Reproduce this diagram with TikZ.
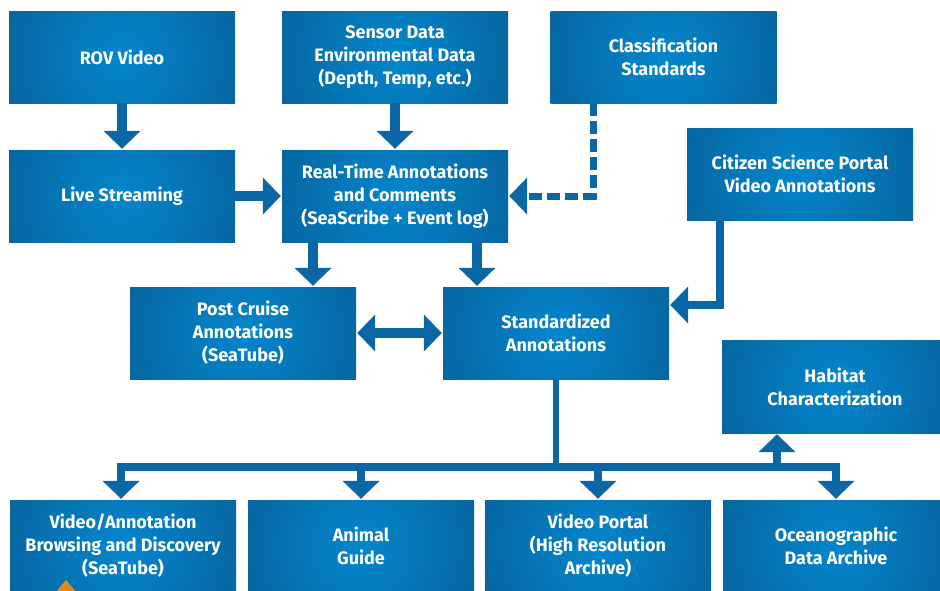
\documentclass[tikz,border=0pt]{standalone}
\usepackage{fontspec}
\setmainfont{Fira Sans}
\usetikzlibrary{arrows.meta,calc}
\definecolor{boxin}{RGB}{4,134,204}
\definecolor{boxout}{RGB}{8,72,120}
\definecolor{arrc}{RGB}{10,103,163}
\definecolor{orangec}{RGB}{224,138,30}
\pgfdeclareradialshading{boxshade}{\pgfpoint{0bp}{0bp}}{color(0bp)=(boxin); color(46bp)=(boxout); color(50bp)=(boxout)}
\begin{document}
\begin{tikzpicture}[x=1pt,y=-1pt,
  box/.style={minimum width=226pt, minimum height=92pt, inner sep=0pt, text=white,
    font=\bfseries\fontsize{18}{23}\selectfont, align=center,
    path picture={\shade[shading=boxshade] (path picture bounding box.center) circle[radius=128pt];}},
  bigtip/.tip={Triangle[width=36pt,length=18pt]},
  arr/.style={draw=arrc, line width=10pt, line join=miter, -{bigtip}, shorten >=1pt},
  thin/.style={line width=8pt},
  ]
\useasboundingbox (0,0) rectangle (940,590);
\clip (0,0) rectangle (940,590);
% nodes
\node[box] (rov)  at (122,57)    {ROV Video};
\node[box] (sens) at (395,57)    {Sensor Data\\Environmental Data\\(Depth, Temp, etc.)};
\node[box] (cls)  at (663.5,57)  {Classification\\Standards};
\node[box] (live) at (122,196)   {Live Streaming};
\node[box] (rt)   at (395,196)   {Real-Time Annotations\\and Comments\\(SeaScribe + Event log)};
\node[box] (cit)  at (800,174)   {Citizen Science Portal\\Video Annotations};
\node[box] (pc)   at (243,333)   {Post Cruise\\Annotations\\(SeaTube)};
\node[box] (sa)   at (556,333)   {Standardized\\Annotations};
\node[box, minimum height=93pt] (hab)  at (835,386.5) {Habitat\\Characterization};
\node[box] (va)   at (123,546)   {Video/Annotation\\Browsing and Discovery\\(SeaTube)};
\node[box] (ag)   at (361,546)   {Animal\\Guide};
\node[box] (vp)   at (598,546)   {Video Portal\\(High Resolution\\Archive)};
\node[box] (oc)   at (836,546)   {Oceanographic\\Data Archive};
\fill[orangec] (55,593) -- (66,580) -- (77,593) -- cycle;
% connectors
\draw[arr] (rov) -- (live);
\draw[arr] (sens) -- (rt);
\draw[arr] (live) -- (rt);
\draw[arr] ([xshift=-82pt]rt.south) -- ([xshift=-82pt]rt.south |- pc.north);
\draw[arr] ([xshift=82pt]rt.south) -- ([xshift=82pt]rt.south |- sa.north);
\draw[arr, line width=7pt, dash pattern=on 13pt off 5pt] ([xshift=-70.5pt]cls.south) |- (rt.east);
\draw[arr, thin] ([xshift=-80pt]cit.south) |- ([yshift=28pt]sa.east);
\draw[arr, {bigtip}-{bigtip}, shorten <=1pt] (pc) -- (sa);
\coordinate (bus) at (556,466.5);
\coordinate (hx) at ([xshift=-58pt]hab.south);
\draw[draw=arrc, line width=6pt] (sa.south) -- (bus);
\draw[arr, thin] (bus) -| ([xshift=-2pt]va.north);
\draw[arr, thin] (bus) -| (oc.north);
\draw[arr, thin] (bus -| ag.north) -- (ag.north);
\draw[arr, thin] (bus -| vp.north) -- (vp.north);
\draw[arr, thin] (bus -| hx) -- (hx);
\end{tikzpicture}
\end{document}
